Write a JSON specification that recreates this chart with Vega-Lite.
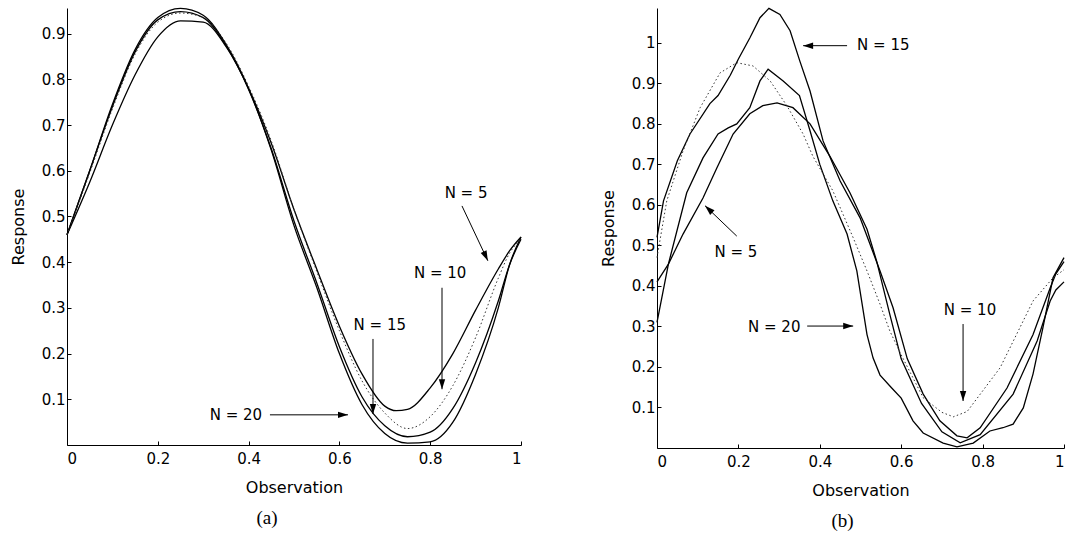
{
  "$schema": "https://vega.github.io/schema/vega-lite/v6.json",
  "background": "white",
  "padding": {"left": 10, "top": 5, "right": 0, "bottom": 0},
  "datasets": {
    "curvesA": [
      {"N":"20","x":0,"y":0.46},{"N":"20","x":0.05,"y":0.6},{"N":"20","x":0.1,"y":0.745},{"N":"20","x":0.15,"y":0.865},{"N":"20","x":0.2,"y":0.935},{"N":"20","x":0.25,"y":0.955},{"N":"20","x":0.3,"y":0.94},{"N":"20","x":0.35,"y":0.877},{"N":"20","x":0.4,"y":0.78},{"N":"20","x":0.45,"y":0.645},{"N":"20","x":0.5,"y":0.48},{"N":"20","x":0.55,"y":0.345},{"N":"20","x":0.6,"y":0.2},{"N":"20","x":0.65,"y":0.088},{"N":"20","x":0.7,"y":0.025},{"N":"20","x":0.75,"y":0.004},{"N":"20","x":0.8,"y":0.007},{"N":"20","x":0.85,"y":0.05},{"N":"20","x":0.9,"y":0.155},{"N":"20","x":0.95,"y":0.3},{"N":"20","x":0.975,"y":0.395},{"N":"20","x":1,"y":0.455},
      {"N":"15","x":0,"y":0.46},{"N":"15","x":0.05,"y":0.6},{"N":"15","x":0.1,"y":0.74},{"N":"15","x":0.15,"y":0.86},{"N":"15","x":0.2,"y":0.93},{"N":"15","x":0.25,"y":0.948},{"N":"15","x":0.3,"y":0.935},{"N":"15","x":0.35,"y":0.874},{"N":"15","x":0.4,"y":0.778},{"N":"15","x":0.45,"y":0.648},{"N":"15","x":0.5,"y":0.49},{"N":"15","x":0.55,"y":0.355},{"N":"15","x":0.6,"y":0.215},{"N":"15","x":0.65,"y":0.105},{"N":"15","x":0.7,"y":0.042},{"N":"15","x":0.75,"y":0.018},{"N":"15","x":0.8,"y":0.028},{"N":"15","x":0.85,"y":0.08},{"N":"15","x":0.9,"y":0.18},{"N":"15","x":0.95,"y":0.315},{"N":"15","x":0.975,"y":0.395},{"N":"15","x":1,"y":0.45},
      {"N":"10","x":0,"y":0.46},{"N":"10","x":0.05,"y":0.595},{"N":"10","x":0.1,"y":0.735},{"N":"10","x":0.15,"y":0.855},{"N":"10","x":0.2,"y":0.925},{"N":"10","x":0.25,"y":0.945},{"N":"10","x":0.3,"y":0.935},{"N":"10","x":0.35,"y":0.88},{"N":"10","x":0.4,"y":0.785},{"N":"10","x":0.45,"y":0.665},{"N":"10","x":0.5,"y":0.515},{"N":"10","x":0.55,"y":0.38},{"N":"10","x":0.6,"y":0.25},{"N":"10","x":0.65,"y":0.14},{"N":"10","x":0.7,"y":0.07},{"N":"10","x":0.75,"y":0.036},{"N":"10","x":0.8,"y":0.062},{"N":"10","x":0.85,"y":0.13},{"N":"10","x":0.9,"y":0.235},{"N":"10","x":0.95,"y":0.365},{"N":"10","x":0.975,"y":0.42},{"N":"10","x":1,"y":0.45},
      {"N":"5","x":0,"y":0.46},{"N":"5","x":0.05,"y":0.575},{"N":"5","x":0.1,"y":0.7},{"N":"5","x":0.15,"y":0.81},{"N":"5","x":0.2,"y":0.893},{"N":"5","x":0.25,"y":0.928},{"N":"5","x":0.3,"y":0.925},{"N":"5","x":0.35,"y":0.872},{"N":"5","x":0.4,"y":0.78},{"N":"5","x":0.45,"y":0.66},{"N":"5","x":0.5,"y":0.515},{"N":"5","x":0.55,"y":0.385},{"N":"5","x":0.6,"y":0.26},{"N":"5","x":0.65,"y":0.155},{"N":"5","x":0.7,"y":0.085},{"N":"5","x":0.725,"y":0.075},{"N":"5","x":0.75,"y":0.078},{"N":"5","x":0.8,"y":0.125},{"N":"5","x":0.85,"y":0.2},{"N":"5","x":0.9,"y":0.295},{"N":"5","x":0.95,"y":0.385},{"N":"5","x":0.975,"y":0.425},{"N":"5","x":1,"y":0.455}
    ],
    "curvesB": [
      {"N":"15","x":0,"y":0.52},{"N":"15","x":0.016,"y":0.61},{"N":"15","x":0.05,"y":0.709},{"N":"15","x":0.081,"y":0.775},{"N":"15","x":0.13,"y":0.85},{"N":"15","x":0.15,"y":0.87},{"N":"15","x":0.18,"y":0.92},{"N":"15","x":0.2,"y":0.96},{"N":"15","x":0.228,"y":1.012},{"N":"15","x":0.253,"y":1.062},{"N":"15","x":0.275,"y":1.085},{"N":"15","x":0.302,"y":1.07},{"N":"15","x":0.327,"y":1.03},{"N":"15","x":0.351,"y":0.955},{"N":"15","x":0.376,"y":0.881},{"N":"15","x":0.408,"y":0.758},{"N":"15","x":0.45,"y":0.659},{"N":"15","x":0.499,"y":0.568},{"N":"15","x":0.523,"y":0.504},{"N":"15","x":0.548,"y":0.437},{"N":"15","x":0.58,"y":0.346},{"N":"15","x":0.615,"y":0.22},{"N":"15","x":0.654,"y":0.133},{"N":"15","x":0.695,"y":0.067},{"N":"15","x":0.737,"y":0.03},{"N":"15","x":0.762,"y":0.025},{"N":"15","x":0.794,"y":0.05},{"N":"15","x":0.86,"y":0.148},{"N":"15","x":0.924,"y":0.28},{"N":"15","x":0.966,"y":0.395},{"N":"15","x":0.98,"y":0.43},{"N":"15","x":1,"y":0.46},
      {"N":"10","x":0,"y":0.47},{"N":"10","x":0.024,"y":0.61},{"N":"10","x":0.064,"y":0.733},{"N":"10","x":0.106,"y":0.84},{"N":"10","x":0.155,"y":0.926},{"N":"10","x":0.196,"y":0.951},{"N":"10","x":0.236,"y":0.943},{"N":"10","x":0.278,"y":0.906},{"N":"10","x":0.319,"y":0.845},{"N":"10","x":0.359,"y":0.775},{"N":"10","x":0.383,"y":0.72},{"N":"10","x":0.432,"y":0.635},{"N":"10","x":0.482,"y":0.519},{"N":"10","x":0.516,"y":0.437},{"N":"10","x":0.548,"y":0.355},{"N":"10","x":0.572,"y":0.289},{"N":"10","x":0.6,"y":0.23},{"N":"10","x":0.654,"y":0.124},{"N":"10","x":0.7,"y":0.088},{"N":"10","x":0.728,"y":0.077},{"N":"10","x":0.762,"y":0.09},{"N":"10","x":0.843,"y":0.198},{"N":"10","x":0.924,"y":0.363},{"N":"10","x":0.973,"y":0.42},{"N":"10","x":1,"y":0.44},
      {"N":"20","x":0,"y":0.31},{"N":"20","x":0.028,"y":0.454},{"N":"20","x":0.073,"y":0.63},{"N":"20","x":0.113,"y":0.716},{"N":"20","x":0.15,"y":0.775},{"N":"20","x":0.175,"y":0.79},{"N":"20","x":0.196,"y":0.8},{"N":"20","x":0.228,"y":0.84},{"N":"20","x":0.253,"y":0.906},{"N":"20","x":0.273,"y":0.935},{"N":"20","x":0.31,"y":0.906},{"N":"20","x":0.35,"y":0.87},{"N":"20","x":0.376,"y":0.783},{"N":"20","x":0.4,"y":0.7},{"N":"20","x":0.432,"y":0.61},{"N":"20","x":0.467,"y":0.528},{"N":"20","x":0.491,"y":0.437},{"N":"20","x":0.516,"y":0.28},{"N":"20","x":0.531,"y":0.222},{"N":"20","x":0.548,"y":0.18},{"N":"20","x":0.575,"y":0.15},{"N":"20","x":0.6,"y":0.123},{"N":"20","x":0.629,"y":0.067},{"N":"20","x":0.654,"y":0.037},{"N":"20","x":0.703,"y":0.012},{"N":"20","x":0.737,"y":0.003},{"N":"20","x":0.777,"y":0.012},{"N":"20","x":0.818,"y":0.042},{"N":"20","x":0.85,"y":0.05},{"N":"20","x":0.875,"y":0.059},{"N":"20","x":0.9,"y":0.099},{"N":"20","x":0.924,"y":0.183},{"N":"20","x":0.948,"y":0.296},{"N":"20","x":0.973,"y":0.42},{"N":"20","x":1,"y":0.47},
      {"N":"5","x":0,"y":0.41},{"N":"5","x":0.028,"y":0.454},{"N":"5","x":0.064,"y":0.528},{"N":"5","x":0.113,"y":0.617},{"N":"5","x":0.147,"y":0.691},{"N":"5","x":0.187,"y":0.775},{"N":"5","x":0.228,"y":0.825},{"N":"5","x":0.26,"y":0.845},{"N":"5","x":0.295,"y":0.852},{"N":"5","x":0.334,"y":0.84},{"N":"5","x":0.376,"y":0.8},{"N":"5","x":0.425,"y":0.72},{"N":"5","x":0.474,"y":0.63},{"N":"5","x":0.516,"y":0.54},{"N":"5","x":0.54,"y":0.46},{"N":"5","x":0.572,"y":0.33},{"N":"5","x":0.6,"y":0.22},{"N":"5","x":0.65,"y":0.11},{"N":"5","x":0.7,"y":0.04},{"N":"5","x":0.745,"y":0.013},{"N":"5","x":0.794,"y":0.033},{"N":"5","x":0.875,"y":0.133},{"N":"5","x":0.934,"y":0.264},{"N":"5","x":0.966,"y":0.363},{"N":"5","x":0.98,"y":0.39},{"N":"5","x":1,"y":0.41}
    ],
    "labelsA": [
      {"label":"N = 5","x":0.879,"y":0.551,"x1":0.87,"y1":0.523,"x2":0.927,"y2":0.403},
      {"label":"N = 10","x":0.822,"y":0.376,"x1":0.826,"y1":0.344,"x2":0.826,"y2":0.122},
      {"label":"N = 15","x":0.689,"y":0.263,"x1":0.674,"y1":0.232,"x2":0.674,"y2":0.068},
      {"label":"N = 20","x":0.372,"y":0.066,"x1":0.447,"y1":0.066,"x2":0.619,"y2":0.066}
    ],
    "labelsB": [
      {"label":"N = 15","x":0.556,"y":0.995,"x1":0.467,"y1":0.993,"x2":0.359,"y2":0.993},
      {"label":"N = 5","x":0.194,"y":0.484,"x1":0.196,"y1":0.523,"x2":0.118,"y2":0.598},
      {"label":"N = 20","x":0.288,"y":0.299,"x1":0.369,"y1":0.301,"x2":0.482,"y2":0.301},
      {"label":"N = 10","x":0.769,"y":0.341,"x1":0.752,"y1":0.306,"x2":0.752,"y2":0.116}
    ]
  },
  "hconcat": [
    {
      "width": 454,
      "height": 437,
      "title": {"text": "(a)", "orient": "bottom", "dx": -27, "offset": 14},
      "layer": [
        {
          "data": {"name": "curvesA"},
          "transform": [{"filter": "datum.N != '10'"}],
          "mark": {"type": "line", "interpolate": "monotone", "color": "black", "strokeWidth": 1.3},
          "encoding": {
            "x": {"field": "x", "type": "quantitative", "scale": {"domain": [0, 1], "nice": false},
                  "axis": {"title": "Observation", "values": [0, 0.2, 0.4, 0.6, 0.8, 1], "format": "~g", "labelFontSize": 15, "titleFontSize": 16, "labelPadding": 10, "titlePadding": 13}},
            "y": {"field": "y", "type": "quantitative", "scale": {"domain": [0, 0.956], "nice": false, "zero": false},
                  "axis": {"title": "Response", "values": [0.1, 0.2, 0.3, 0.4, 0.5, 0.6, 0.7, 0.8, 0.9], "format": "~g", "labelFontSize": 15, "titleFontSize": 16, "titlePadding": 15}},
            "detail": {"field": "N"}
          }
        },
        {
          "data": {"name": "curvesA"},
          "transform": [{"filter": "datum.N == '10'"}],
          "mark": {"type": "line", "interpolate": "monotone", "color": "#333", "strokeWidth": 1, "strokeDash": [1.5, 2.5]},
          "encoding": {"x": {"field": "x", "type": "quantitative"}, "y": {"field": "y", "type": "quantitative"}}
        },
        {
          "data": {"name": "labelsA"},
          "mark": {"type": "rule", "color": "black", "strokeWidth": 1},
          "encoding": {"x": {"field": "x1", "type": "quantitative"}, "y": {"field": "y1", "type": "quantitative"},
                       "x2": {"field": "x2"}, "y2": {"field": "y2"}}
        },
        {
          "data": {"name": "labelsA"},
          "mark": {"type": "text", "font": "DejaVu Sans", "fontSize": 15, "color": "black", "align": "center", "baseline": "middle"},
          "encoding": {"x": {"field": "x", "type": "quantitative"}, "y": {"field": "y", "type": "quantitative"}, "text": {"field": "label"}}
        },
        {
          "data": {"values": [{"x": 0.826, "y": 0.122}, {"x": 0.674, "y": 0.068}]},
          "mark": {"type": "point", "shape": "M0,0L0.32,1L-0.32,1Z", "size": 400, "filled": true, "color": "black", "opacity": 1, "angle": 180},
          "encoding": {"x": {"field": "x", "type": "quantitative"}, "y": {"field": "y", "type": "quantitative"}}
        },
        {
          "data": {"values": [{"x": 0.619, "y": 0.066}]},
          "mark": {"type": "point", "shape": "M0,0L0.32,1L-0.32,1Z", "size": 400, "filled": true, "color": "black", "opacity": 1, "angle": 90},
          "encoding": {"x": {"field": "x", "type": "quantitative"}, "y": {"field": "y", "type": "quantitative"}}
        },
        {
          "data": {"values": [{"x": 0.927, "y": 0.403}]},
          "mark": {"type": "point", "shape": "M0,0L0.32,1L-0.32,1Z", "size": 400, "filled": true, "color": "black", "opacity": 1, "angle": 155},
          "encoding": {"x": {"field": "x", "type": "quantitative"}, "y": {"field": "y", "type": "quantitative"}}
        }
      ]
    },
    {
      "width": 407,
      "height": 440,
      "title": {"text": "(b)", "orient": "bottom", "dx": -18, "offset": 14},
      "layer": [
        {
          "data": {"name": "curvesB"},
          "transform": [{"filter": "datum.N != '10'"}],
          "mark": {"type": "line", "color": "black", "strokeWidth": 1.3},
          "encoding": {
            "x": {"field": "x", "type": "quantitative", "scale": {"domain": [0, 1], "nice": false},
                  "axis": {"title": "Observation", "values": [0, 0.2, 0.4, 0.6, 0.8, 1], "format": "~g", "labelFontSize": 15, "titleFontSize": 16, "labelPadding": 10, "titlePadding": 13}},
            "y": {"field": "y", "type": "quantitative", "scale": {"domain": [0, 1.086], "nice": false, "zero": false},
                  "axis": {"title": "Response", "values": [0.1, 0.2, 0.3, 0.4, 0.5, 0.6, 0.7, 0.8, 0.9, 1], "format": "~g", "labelFontSize": 15, "titleFontSize": 16, "titlePadding": 15}},
            "detail": {"field": "N"}
          }
        },
        {
          "data": {"name": "curvesB"},
          "transform": [{"filter": "datum.N == '10'"}],
          "mark": {"type": "line", "color": "#333", "strokeWidth": 1, "strokeDash": [1.5, 2.5]},
          "encoding": {"x": {"field": "x", "type": "quantitative"}, "y": {"field": "y", "type": "quantitative"}}
        },
        {
          "data": {"name": "labelsB"},
          "mark": {"type": "rule", "color": "black", "strokeWidth": 1},
          "encoding": {"x": {"field": "x1", "type": "quantitative"}, "y": {"field": "y1", "type": "quantitative"},
                       "x2": {"field": "x2"}, "y2": {"field": "y2"}}
        },
        {
          "data": {"name": "labelsB"},
          "mark": {"type": "text", "font": "DejaVu Sans", "fontSize": 15, "color": "black", "align": "center", "baseline": "middle"},
          "encoding": {"x": {"field": "x", "type": "quantitative"}, "y": {"field": "y", "type": "quantitative"}, "text": {"field": "label"}}
        },
        {
          "data": {"values": [{"x": 0.752, "y": 0.116}]},
          "mark": {"type": "point", "shape": "M0,0L0.32,1L-0.32,1Z", "size": 400, "filled": true, "color": "black", "opacity": 1, "angle": 180},
          "encoding": {"x": {"field": "x", "type": "quantitative"}, "y": {"field": "y", "type": "quantitative"}}
        },
        {
          "data": {"values": [{"x": 0.482, "y": 0.301}]},
          "mark": {"type": "point", "shape": "M0,0L0.32,1L-0.32,1Z", "size": 400, "filled": true, "color": "black", "opacity": 1, "angle": 90},
          "encoding": {"x": {"field": "x", "type": "quantitative"}, "y": {"field": "y", "type": "quantitative"}}
        },
        {
          "data": {"values": [{"x": 0.359, "y": 0.993}]},
          "mark": {"type": "point", "shape": "M0,0L0.32,1L-0.32,1Z", "size": 400, "filled": true, "color": "black", "opacity": 1, "angle": 270},
          "encoding": {"x": {"field": "x", "type": "quantitative"}, "y": {"field": "y", "type": "quantitative"}}
        },
        {
          "data": {"values": [{"x": 0.118, "y": 0.598}]},
          "mark": {"type": "point", "shape": "M0,0L0.32,1L-0.32,1Z", "size": 400, "filled": true, "color": "black", "opacity": 1, "angle": 313},
          "encoding": {"x": {"field": "x", "type": "quantitative"}, "y": {"field": "y", "type": "quantitative"}}
        }
      ]
    }
  ],
  "spacing": 136,
  "bounds": "flush",
  "config": {
    "view": {"stroke": null},
    "axis": {
      "grid": false,
      "domainColor": "black",
      "domainWidth": 1,
      "tickColor": "black",
      "tickSize": -4,
      "labelColor": "black",
      "titleColor": "black",
      "labelFont": "DejaVu Sans",
      "titleFont": "DejaVu Sans",
      "labelFontSize": 15,
      "titleFontSize": 16,
      "titleFontWeight": "normal",
      "labelPadding": 6
    },
    "title": {"font": "Liberation Serif", "fontSize": 19, "fontWeight": "normal", "color": "black"}
  }
}
